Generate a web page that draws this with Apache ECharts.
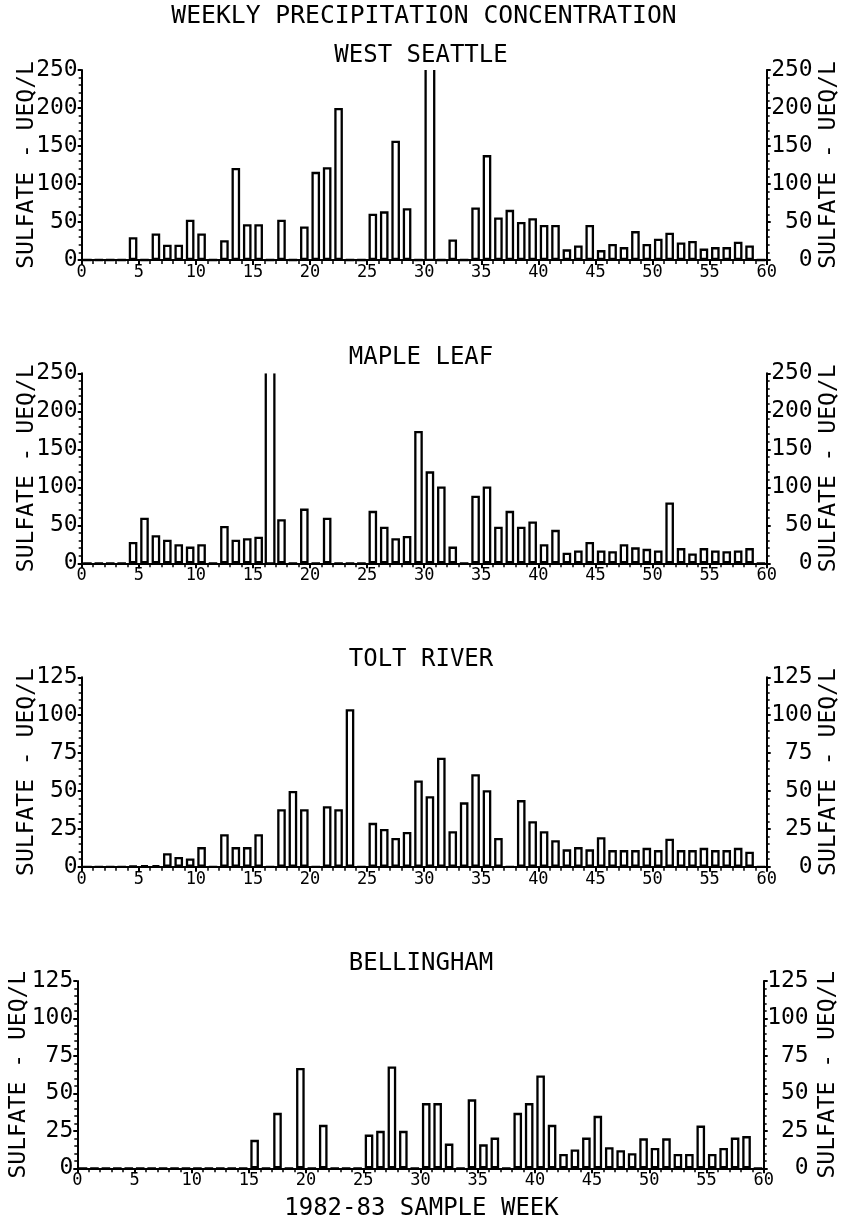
<!DOCTYPE html>
<html><head><meta charset="utf-8">
<script src="https://cdn.jsdelivr.net/npm/echarts@6/dist/echarts.min.js"></script>
<style>html,body{margin:0;padding:0;background:#fff}#c{width:842px;height:1220px}</style>
</head><body><div id="c"></div>
<script>
const weeks = ['1','2','3','4','5','6','7','8','9','10','11','12','13','14','15','16','17','18','19','20',
  '21','22','23','24','25','26','27','28','29','30','31','32','33','34','35','36','37','38','39','40',
  '41','42','43','44','45','46','47','48','49','50','51','52','53','54','55','56','57','58','59','60'];
// Values > axis max are off-scale in the original (bars drawn open at the top)
const westSeattle = [0,0,0,0,30,0,35,20,20,53, 35,0,26,121,47,47,0,53,0,44,
  116,122,200,0,0,61,64,157,68,0, 300,0,27,0,69,138,56,66,50,55,
  46,46,14,19,46,13,21,17,38,21, 28,36,23,25,15,17,17,24,19,0];
const mapleLeaf = [0,0,0,0,28,60,37,31,25,22, 25,0,49,31,33,35,300,58,0,72,
  0,60,0,0,0,69,48,33,36,174, 121,101,22,0,89,101,48,69,48,55,
  25,44,14,17,28,17,16,25,21,19, 17,80,20,13,20,17,16,17,20,0];
const toltRiver = [0,0,0,0,0.5,1,1,9,6.5,5.5, 13,0,21.5,13,13,21.5,0,38,50,38,
  0,40,38,104,0,29,25,19,23,57, 46.5,72,23.5,42.5,61,50.5,19,0,44,30,
  23.5,17.5,11.5,13,11.5,19.5,11,11,11,12.5, 11,18.5,11,11,12.5,11,11,12.5,10,0];
const bellingham = [0,0,0,0,0,0,0,0,0,0, 0,0,0,0,0,19,0,37,0,67,
  0,29,0,0,0,22.5,25,68,25,0, 43.5,43.5,16.5,0,46,16,20.5,0,37,43.5,
  62,29,9.5,12.5,20.5,35,14,12,10,20, 13.5,20,9.5,9.5,28.5,9.5,13.5,20.5,21.5,0];

const panels = [
  {name:'WEST SEATTLE', data:westSeattle, max:250, step:50},
  {name:'MAPLE LEAF', data:mapleLeaf, max:250, step:50},
  {name:'TOLT RIVER', data:toltRiver, max:125, step:25},
  {name:'BELLINGHAM', data:bellingham, max:125, step:25}
];
const mainTitle = 'WEEKLY PRECIPITATION CONCENTRATION';
const xTitle = '1982-83 SAMPLE WEEK';
const yTitle = 'SULFATE - UEQ/L';

// layout
const grids = [
  {left:81.7, right:75.3, top:70, height:190, nameL:43, nameR:51, titleY:55.5, marginR:46},
  {left:81.7, right:75.3, top:373.3, height:190, nameL:43, nameR:51, titleY:357.3, marginR:46},
  {left:81.7, right:75.3, top:677.3, height:189.5, nameL:43, nameR:51, titleY:660, marginR:46},
  {left:77.3, right:78.3, top:981, height:187.3, nameL:47, nameR:53, titleY:963.8, marginR:45}
];
const FONT = 'DejaVu Sans Mono';
const black = '#000';
const BW = 2.3;
const BARPX = 8.6;

const option = {
  animation:false,
  backgroundColor:'#fff',
  grid: grids.map(g=>({left:g.left, right:g.right, top:g.top, height:g.height, containLabel:false, outerBoundsMode:'none'})),
  xAxis: [], yAxis: [], series: [],
  graphic: []
};
panels.forEach((p,i)=>{
  const g = grids[i];
  option.xAxis.push({
    type:'value', gridIndex:i, min:0, max:60, interval:5,
    axisLine:{show:true, lineStyle:{color:black, width:2}},
    axisTick:{show:true, length:5, lineStyle:{color:black, width:2}},
    minorTick:{show:true, splitNumber:5, length:4, lineStyle:{color:black, width:1.5}},
    axisLabel:{color:black, fontFamily:FONT, fontSize:17, margin:4},
    splitLine:{show:false}, minorSplitLine:{show:false}
  });
  option.xAxis.push({type:'category', gridIndex:i, data:weeks, show:false, boundaryGap:true});
  const yBase = {
    type:'value', gridIndex:i, min:0, max:p.max, interval:p.step,
    name:yTitle, nameLocation:'middle', nameRotate:90, nameMoveOverlap:false,
    nameTextStyle:{fontFamily:FONT, fontSize:23, color:black},
    axisLine:{show:true, lineStyle:{color:black, width:2}},
    axisTick:{show:true, length:4, lineStyle:{color:black, width:2}},
    minorTick:{show:true, splitNumber:5, length:3, lineStyle:{color:black, width:1.5}},
    splitLine:{show:false}, minorSplitLine:{show:false}
  };
  option.yAxis.push(Object.assign({}, yBase, {position:'left', nameGap:g.nameL,
    axisLabel:{color:black, fontFamily:FONT, fontSize:23, margin:4}}));
  option.yAxis.push(Object.assign({}, yBase, {position:'right', nameGap:g.nameR,
    axisLabel:{color:black, fontFamily:FONT, fontSize:23, margin:g.marginR, align:'right'}}));
  // in-range values as normal bars
  option.series.push({
    type:'bar', xAxisIndex:2*i+1, yAxisIndex:2*i,
    data:p.data.map(v => v > p.max ? null : v), barWidth:BARPX, clip:true,
    itemStyle:{color:'#fff', borderColor:black, borderWidth:BW}
  });
  // off-scale values: open-topped bars reaching the top of the axis
  const off = [];
  p.data.forEach((v,k)=>{ if (v > p.max) off.push([k, v]); });
  option.series.push({
    type:'custom', xAxisIndex:2*i+1, yAxisIndex:2*i, data:off, clip:true,
    renderItem:(params, api)=>{
      const c = api.value(0);
      const base = api.coord([c, 0]);
      const top = api.coord([c, p.max]);
      const w = BARPX;
      return {type:'polyline', shape:{points:[[base[0]-w/2, top[1]],[base[0]-w/2, base[1]],[base[0]+w/2, base[1]],[base[0]+w/2, top[1]]]},
        style:{stroke:black, lineWidth:BW, fill:null}};
    }
  });
  option.graphic.push({type:'text', x:421, y:g.titleY, style:{text:p.name, font:'24px "'+FONT+'"', fill:black, textAlign:'center', textVerticalAlign:'middle'}});
});
option.graphic.push({type:'text', x:424, y:17, style:{text:mainTitle, font:'24.7px "'+FONT+'"', fill:black, textAlign:'center', textVerticalAlign:'middle'}});
option.graphic.push({type:'text', x:421.5, y:1208.5, style:{text:xTitle, font:'24px "'+FONT+'"', fill:black, textAlign:'center', textVerticalAlign:'middle'}});

const chart = echarts.init(document.getElementById('c'), null, {renderer:'canvas'});
chart.setOption(option);
</script></body></html>
